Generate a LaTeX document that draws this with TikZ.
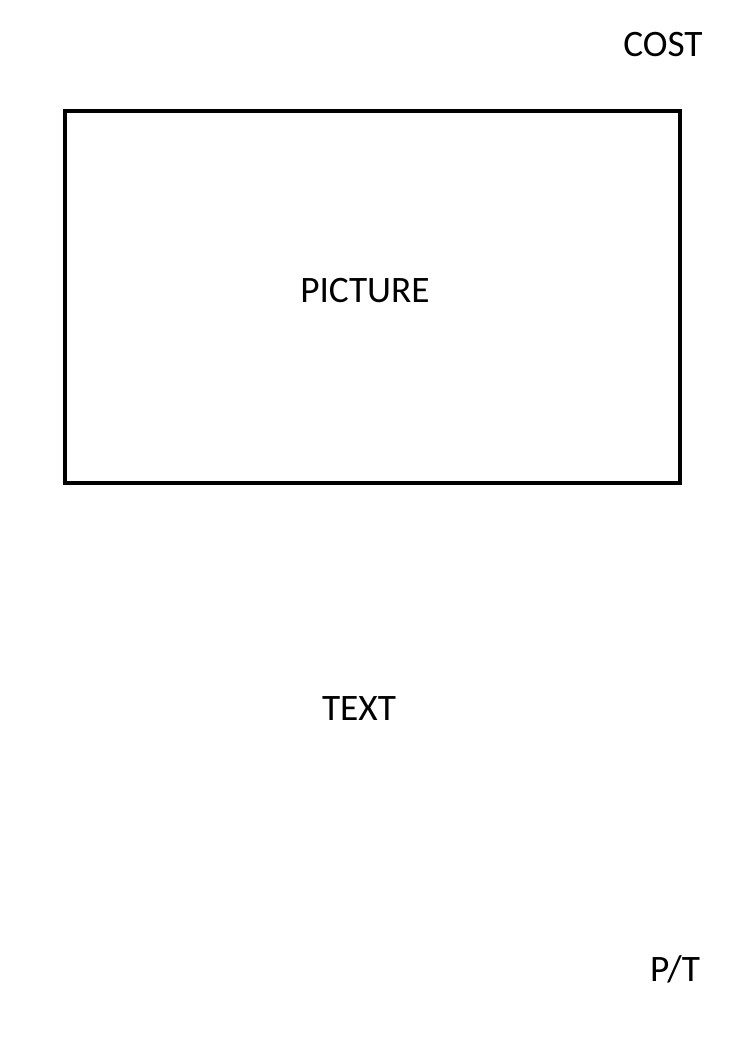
\documentclass[tikz,border=0pt]{standalone}
\usepackage{fontspec}
\setmainfont{Carlito}
\usetikzlibrary{positioning}

\begin{document}
\begin{tikzpicture}[x=0.75pt,y=-0.75pt,
    label text/.style={font=\fontsize{28}{33}\selectfont, inner sep=0pt, anchor=base},
    frame box/.style={draw, line width=3.2pt}]

    \useasboundingbox (0,0) rectangle (745,1040);

    \draw[frame box] (65,111) rectangle (680,483);

    \node[label text] (cost) at (663,56) {COST};
    \node[label text] (picture) at (365,302) {PICTURE};
    \node[label text] (text) at (359,720) {TEXT};
    \node[label text] (pt) at (675,981) {P/T};
\end{tikzpicture}
\end{document}
